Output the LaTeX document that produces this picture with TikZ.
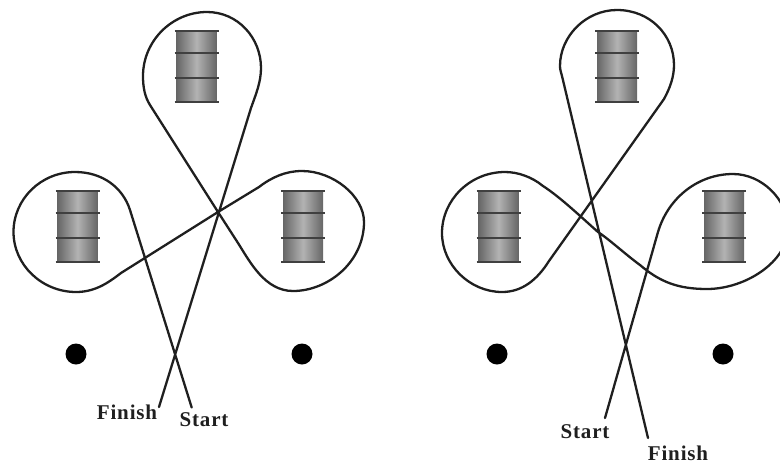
\documentclass[tikz,border=0pt]{standalone}
\usepackage{fontspec}
\setmainfont{Liberation Serif}[LetterSpace=4]
\definecolor{ink}{gray}{0.12}
\definecolor{drumedge}{gray}{0.40}
\definecolor{drummid}{gray}{0.70}
\tikzset{
  x=1pt,y=-1pt,
  route/.style={draw=ink,line width=2.3pt,line join=round,line cap=round},
  hoop/.style={draw=ink!85,line width=2.2pt},
  marker/.style={circle,fill=black,minimum size=21pt,inner sep=0pt},
  caption/.style={font=\fontsize{21}{22}\selectfont\bfseries,text=ink,inner sep=0pt},
  pics/drum/.style={code={
    \shade[left color=drumedge,right color=drumedge,middle color=drummid] (-20,-35.5) rectangle (20,35.5);
    \foreach \yy in {-35.5,-13.5,11.5,35.5}{
      \draw[hoop] (-22,\yy) -- (22,\yy);
    }
  }}
}
\begin{document}
\begin{tikzpicture}
\useasboundingbox (0,0) rectangle (780,464);

% left-hand course
\pic at (196.5,66.5) {drum};
\pic at (77.5,226.5) {drum};
\pic at (303,226.5) {drum};
\node[marker] (dotA) at (76,354) {};
\node[marker] (dotB) at (302,354) {};
\node[caption] (finishA) at (127,412) {Finish};
\node[caption] (startA) at (204,420) {Start};

\draw[route] (191.7,407.5) -- (130,210)
  .. controls (123,188) and (103,172) .. (75,172)
  .. controls (41,172) and (13.5,199) .. (13.5,232)
  .. controls (13.5,265) and (42,292) .. (76,292)
  .. controls (95,292) and (108,283) .. (121,273)
  -- (218,212) -- (259,187)
  .. controls (272,177) and (286,171) .. (302,171)
  .. controls (333,171) and (364,196) .. (364,222)
  .. controls (364,262) and (328,291) .. (293,291)
  .. controls (265,291) and (250,262) .. (238,243)
  -- (218,212) -- (150,105)
  .. controls (145,97) and (143,88) .. (143,76)
  .. controls (143,41) and (172,12) .. (207,12)
  .. controls (238,12) and (261,38) .. (261,68)
  .. controls (261,82) and (256,94) .. (251,108)
  -- (159,407);

% right-hand course; its right lobe runs off the edge of the sheet
\pic at (617,66.5) {drum};
\pic at (498.5,226.5) {drum};
\pic at (724,226.5) {drum};
\node[marker] (dotC) at (497,354) {};
\node[marker] (dotD) at (723,354) {};
\node[caption] (startB) at (585,432) {Start};
\node[caption] (finishB) at (678,453) {Finish};

\begin{scope}
\clip (0,0) rectangle (780,464);
\draw[route] (605,418) -- (658,232)
  .. controls (668,198) and (698,174) .. (733,174)
  .. controls (762,174) and (788,200) .. (788,228)
  .. controls (788,262) and (745,289) .. (707,289)
  .. controls (678,289) and (660,282) .. (640,265)
  .. controls (625,254) and (610,240) .. (598,232)
  .. controls (580,216) and (560,197) .. (543,186)
  .. controls (532,177) and (518,172) .. (505,172)
  .. controls (470,172) and (442,200) .. (442,233)
  .. controls (442,265) and (470,292) .. (502,292)
  .. controls (522,292) and (537,280) .. (549,261)
  -- (664,99)
  .. controls (670,88) and (674,77) .. (674,65)
  .. controls (674,35) and (650,10) .. (617,10)
  .. controls (586,10) and (560,36) .. (560,66)
  .. controls (560,70) and (561,72) .. (562,76)
  -- (648,438);
\end{scope}
\end{tikzpicture}
\end{document}
